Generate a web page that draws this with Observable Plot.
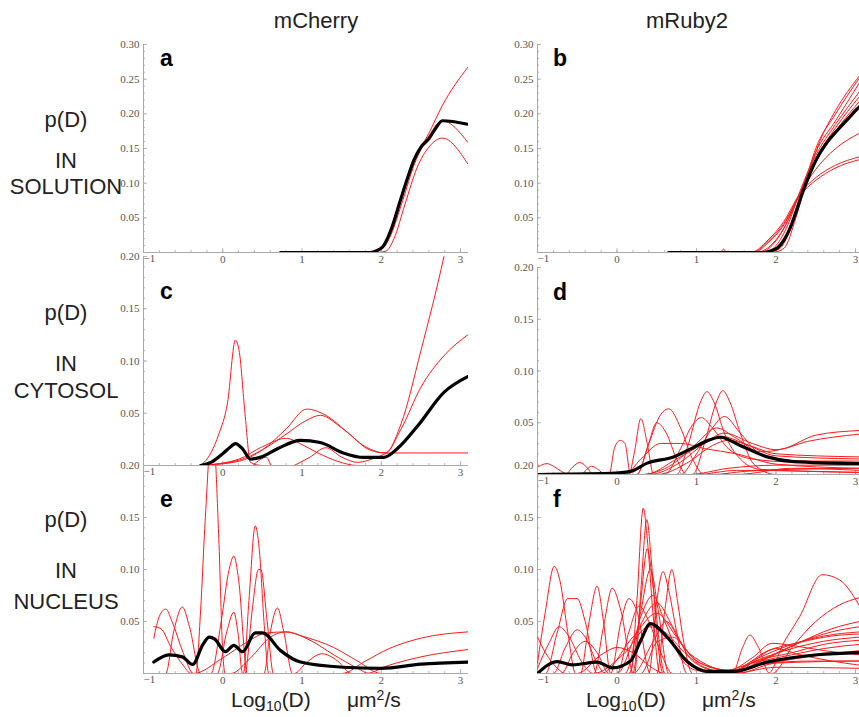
<!DOCTYPE html>
<html><head><meta charset="utf-8">
<script src="https://cdn.jsdelivr.net/npm/d3@7"></script>
<script src="https://cdn.jsdelivr.net/npm/@observablehq/plot@0.6"></script>
<style>
html,body{margin:0;padding:0;background:#fff;overflow:hidden;}
#wrap{position:relative;width:859px;height:717px;overflow:hidden;background:#fff;}
#wrap svg{position:absolute;}
</style></head><body><div id="wrap"></div>
<script>
// ---------- tick values ----------
const xMajor = [-1, 0, 1, 2, 3];
const yMajorTop = [0.05, 0.10, 0.15, 0.20, 0.25, 0.30];
const yMajorLow = [0.05, 0.10, 0.15, 0.20];
const columnTitles = ["mCherry", "mRuby2"];
const rowLabels = [["p(D)", "IN", "SOLUTION"], ["p(D)", "IN", "CYTOSOL"], ["p(D)", "IN", "NUCLEUS"]];
const panelLetters = ["a", "b", "c", "d", "e", "f"];

// ---------- data: [log10 D, p(D)] ----------
const blackA = [[0.73,0],[1.5,0],[1.86,0],[1.95,0.003],[2.03,0.01],[2.13,0.035],[2.24,0.075],[2.33,0.107],[2.41,0.133],[2.5,0.152],[2.6,0.164],[2.68,0.178],[2.77,0.19],[3.09,0.185]];
const redA = [
 [[0.73,0],[1.8,0],[1.9,0.002],[2.0,0.008],[2.1,0.028],[2.25,0.08],[2.4,0.13],[2.6,0.172],[2.77,0.212],[3.09,0.267]],
 [[0.73,0],[1.88,0],[2.0,0.004],[2.12,0.025],[2.27,0.075],[2.42,0.128],[2.6,0.168],[2.77,0.19],[3.09,0.159]],
 [[0.73,0],[1.95,0],[2.06,0.002],[2.16,0.02],[2.3,0.07],[2.45,0.122],[2.6,0.152],[2.77,0.165],[3.09,0.128]]
];

const blackB = [[0.65,0],[1.5,0],[1.84,0],[1.95,0.003],[2.02,0.007],[2.1,0.018],[2.18,0.036],[2.25,0.058],[2.33,0.085],[2.42,0.112],[2.52,0.137],[2.65,0.16],[2.77,0.176],[2.9,0.192],[3.04,0.209],[3.1,0.214]];
const redB = [
 [[0.65,0],[1.9,0],[2.05,0.006],[2.2,0.04],[2.35,0.095],[2.5,0.15],[2.75,0.2],[3.05,0.252]],
 [[0.65,0],[1.95,0],[2.1,0.006],[2.25,0.05],[2.4,0.11],[2.55,0.16],[2.75,0.205],[3.05,0.255]],
 [[0.65,0],[1.9,0],[2.05,0.008],[2.2,0.045],[2.35,0.1],[2.5,0.145],[2.75,0.19],[3.05,0.245]],
 [[0.65,0],[1.85,0],[2.0,0.01],[2.15,0.04],[2.3,0.088],[2.5,0.14],[2.75,0.185],[3.05,0.232]],
 [[0.65,0],[1.8,0],[1.95,0.01],[2.1,0.035],[2.3,0.085],[2.5,0.135],[2.75,0.18],[3.05,0.225]],
 [[0.65,0],[1.75,0],[1.95,0.012],[2.1,0.035],[2.3,0.085],[2.5,0.13],[2.75,0.175],[3.05,0.218]],
 [[0.65,0],[1.72,0],[1.9,0.014],[2.1,0.04],[2.3,0.085],[2.5,0.12],[2.75,0.15],[3.05,0.172]],
 [[0.65,0],[1.68,0],[1.9,0.018],[2.1,0.045],[2.3,0.085],[2.5,0.108],[2.75,0.126],[3.05,0.138]],
 [[0.65,0],[1.3,0],[1.34,0.005],[1.38,0],[1.7,0],[1.9,0.016],[2.1,0.042],[2.3,0.082],[2.5,0.104],[2.75,0.122],[3.05,0.134]]
];

const blackC = [[-0.28,0],[-0.15,0.003],[0.01,0.012],[0.1,0.018],[0.16,0.021],[0.25,0.016],[0.35,0.006],[0.48,0.008],[0.69,0.016],[0.98,0.024],[1.23,0.022],[1.52,0.012],[1.78,0.0077],[2.03,0.0077],[2.2,0.016],[2.46,0.038],[2.79,0.07],[3.09,0.085]];
const redC = [
 [[-0.28,0],[-0.15,0.012],[-0.05,0.03],[0.06,0.06],[0.16,0.12],[0.21,0.108],[0.28,0.05],[0.35,0.003],[0.5,0],[3.09,0]],
 [[-0.28,0],[0.2,0.004],[0.5,0.015],[0.8,0.035],[1.06,0.054],[1.3,0.048],[1.6,0.03],[1.85,0.015],[2.05,0.012],[2.25,0.04],[2.5,0.11],[2.79,0.2],[2.9,0.24]],
 [[-0.28,0],[0.2,0.005],[0.5,0.015],[0.8,0.03],[1.05,0.043],[1.23,0.048],[1.5,0.036],[1.8,0.018],[2.05,0.012],[2.25,0.035],[2.5,0.075],[2.79,0.105],[3.09,0.125]],
 [[-0.28,0],[0.2,0.006],[0.5,0.018],[0.8,0.026],[1.0,0.02],[1.2,0.012],[1.45,0.004],[1.7,0],[3.09,0]],
 [[0.9,0],[1.1,0.008],[1.3,0.017],[1.5,0.008],[1.7,0.003],[1.95,0.008],[2.1,0.012],[3.09,0.012]],
 [[0.38,0],[0.48,0.006],[0.55,0.008],[0.62,0],[0.9,0]]
];

const blackD = [[-1,0],[-0.08,0.001],[0.17,0.003],[0.38,0.011],[0.71,0.017],[0.96,0.026],[1.15,0.033],[1.3,0.036],[1.55,0.028],[1.89,0.017],[2.22,0.0125],[3.05,0.0106]];
const redD = [
 [[-1,0.007],[-0.94,0.0095],[-0.88,0.0105],[-0.8,0.008],[-0.7,0.003],[-0.6,0],[1.2,0],[1.6,0.003],[2.2,0.005],[3.05,0.006]],
 [[-1,0],[-0.65,0],[-0.56,0.007],[-0.47,0.0116],[-0.38,0.007],[-0.3,0],[0.9,0],[1.4,0.006],[2.0,0.009],[3.05,0.009]],
 [[-1,0],[-0.45,0],[-0.38,0.005],[-0.32,0.008],[-0.24,0.005],[-0.15,0],[3.05,0]],
 [[-1,0],[-0.1,0],[-0.03,0.026],[0.04,0.033],[0.1,0.03],[0.17,0],[3.05,0]],
 [[-1,0],[0.15,0],[0.22,0.022],[0.3,0.054],[0.38,0.03],[0.46,0],[1.0,0],[1.5,0.004],[3.05,0.002]],
 [[-1,0],[0.25,0],[0.4,0.03],[0.55,0.058],[0.65,0.0635],[0.8,0.045],[0.95,0.015],[1.1,0],[3.05,0]],
 [[-1,0],[0.25,0],[0.38,0.025],[0.5,0.05],[0.62,0.04],[0.75,0.015],[0.88,0],[1.5,0],[2.2,0.006],[3.05,0.004]],
 [[-1,0],[0.75,0],[0.9,0.03],[1.05,0.07],[1.13,0.08],[1.22,0.07],[1.35,0.04],[1.55,0.015],[1.8,0.005],[3.05,0.002]],
 [[-1,0],[0.95,0],[1.1,0.03],[1.25,0.07],[1.33,0.081],[1.42,0.07],[1.55,0.04],[1.72,0.01],[2.0,0],[3.05,0]],
 [[-1,0],[0.6,0],[0.8,0.025],[0.95,0.048],[1.06,0.055],[1.2,0.045],[1.4,0.025],[1.7,0.015],[2.2,0.012],[3.05,0.011]],
 [[-1,0],[0.8,0],[1.0,0.02],[1.2,0.045],[1.35,0.056],[1.55,0.04],[1.8,0.02],[2.2,0.013],[3.05,0.013]],
 [[-1,0],[0.3,0],[0.7,0.01],[1.0,0.03],[1.25,0.045],[1.5,0.035],[1.8,0.022],[2.1,0.025],[2.5,0.038],[3.05,0.0425]],
 [[-1,0],[0.4,0],[0.8,0.012],[1.1,0.03],[1.35,0.04],[1.7,0.03],[2.0,0.024],[2.4,0.032],[3.05,0.039]],
 [[-1,0],[0.5,0],[0.9,0.012],[1.2,0.028],[1.4,0.033],[1.7,0.027],[2.0,0.02],[3.05,0.017]],
 [[-1,0],[0.35,0],[0.75,0.015],[1.1,0.03],[1.3,0.037],[1.6,0.03],[2.0,0.018],[3.05,0.015]],
 [[-1,0],[0.1,0],[0.3,0.015],[0.55,0.03],[0.8,0.03],[1.1,0.025],[1.5,0.02],[2.0,0.01],[3.05,0.006]]
];

const blackE = [[-0.87,0.011],[-0.68,0.018],[-0.51,0.016],[-0.38,0.0087],[-0.25,0.028],[-0.17,0.035],[-0.1,0.033],[0.03,0.021],[0.14,0.027],[0.25,0.021],[0.41,0.039],[0.5,0.039],[0.73,0.022],[0.98,0.011],[1.52,0.006],[1.99,0.005],[2.5,0.009],[3.09,0.011]];
const redE = [
 [[-0.87,0.034],[-0.8,0.055],[-0.72,0.062],[-0.64,0.05],[-0.5,0.02],[-0.37,0],[3.09,0]],
 [[-0.87,0.045],[-0.78,0.043],[-0.65,0.025],[-0.5,0.008],[-0.4,0],[3.09,0]],
 [[-0.87,0],[-0.72,0],[-0.62,0.04],[-0.51,0.064],[-0.42,0.045],[-0.28,0],[3.09,0]],
 [[-0.87,0],[-0.34,0],[-0.28,0.06],[-0.22,0.15],[-0.13,0.24],[-0.05,0.13],[0.0,0.02],[0.03,0],[3.09,0]],
 [[-0.87,0],[-0.15,0],[-0.02,0.05],[0.08,0.1],[0.14,0.113],[0.2,0.09],[0.31,0],[3.09,0]],
 [[-0.87,0],[-0.07,0],[0.05,0.04],[0.14,0.059],[0.19,0.04],[0.25,0],[3.09,0]],
 [[-0.87,0],[0.26,0],[0.33,0.07],[0.41,0.142],[0.46,0.12],[0.52,0.05],[0.58,0],[3.09,0]],
 [[-0.87,0],[0.28,0],[0.37,0.06],[0.45,0.1],[0.48,0.1],[0.56,0.05],[0.64,0],[3.09,0]],
 [[-0.87,0],[0.52,0],[0.6,0.04],[0.69,0.063],[0.77,0.04],[0.88,0],[3.09,0]],
 [[-0.87,0],[-0.37,0],[0,0.015],[0.3,0.03],[0.55,0.039],[0.8,0.04],[1.0,0.036],[1.4,0.025],[1.7,0.012],[2.0,0],[3.09,0]],
 [[-0.87,0],[0.1,0],[0.35,0.015],[0.6,0.035],[0.8,0.04],[1.1,0.032],[1.4,0.018],[1.7,0.005],[1.85,0],[3.09,0]],
 [[-0.87,0],[0.9,0],[1.05,0.01],[1.25,0.019],[1.45,0.012],[1.62,0],[3.09,0]],
 [[-0.87,0],[1.5,0],[1.8,0.012],[2.1,0.024],[2.5,0.034],[3.09,0.04]],
 [[-0.87,0],[1.8,0],[2.1,0.008],[2.5,0.016],[3.09,0.023]]
];

const blackF = [[-1,0],[-0.75,0.0115],[-0.56,0.0083],[-0.25,0.011],[-0.06,0.0054],[0.17,0.012],[0.3,0.032],[0.42,0.048],[0.63,0.035],[0.89,0.011],[1.14,0.002],[1.47,0.002],[1.89,0.011],[2.52,0.018],[3.05,0.020]];
const redF = [
 [[-1,0.01],[-0.9,0.06],[-0.79,0.103],[-0.72,0.09],[-0.62,0.04],[-0.52,0],[1.5,0],[2.0,0.01],[3.05,0.012]],
 [[-1,0],[-0.9,0],[-0.75,0.04],[-0.62,0.072],[-0.5,0.072],[-0.4,0.05],[-0.25,0],[1.45,0],[2.0,0.006],[3.05,0.005]],
 [[-1,0],[-0.46,0],[-0.35,0.05],[-0.25,0.084],[-0.17,0.05],[-0.08,0],[3.05,0]],
 [[-1,0],[-0.29,0],[-0.17,0.045],[-0.06,0.082],[0.05,0.06],[0.21,0],[1.4,0],[1.7,0.012],[2.2,0.028],[2.6,0.036],[3.05,0.04]],
 [[-1,0],[-0.08,0],[0.05,0.05],[0.15,0.072],[0.25,0.06],[0.42,0],[3.05,0]],
 [[-1,0],[0.17,0],[0.25,0.07],[0.33,0.159],[0.38,0.13],[0.45,0.06],[0.54,0],[3.05,0]],
 [[-1,0],[0.22,0],[0.3,0.08],[0.375,0.148],[0.43,0.11],[0.5,0.04],[0.58,0],[3.05,0]],
 [[-1,0],[0.2,0],[0.3,0.07],[0.38,0.12],[0.46,0.08],[0.6,0],[3.05,0]],
 [[-1,0],[0.15,0],[0.3,0.06],[0.42,0.1],[0.52,0.06],[0.65,0],[1.4,0],[1.9,0.015],[2.3,0.03],[2.7,0.043],[3.05,0.05]],
 [[-1,0],[0.4,0],[0.5,0.07],[0.58,0.098],[0.65,0.08],[0.75,0.04],[0.88,0],[3.05,0]],
 [[-1,0],[0.5,0],[0.6,0.06],[0.69,0.1],[0.76,0.07],[0.84,0.03],[0.95,0],[1.4,0],[1.85,0.014],[2.3,0.03],[2.7,0.04],[3.05,0.045]],
 [[-1,0],[0.1,0],[0.3,0.055],[0.45,0.075],[0.6,0.05],[0.8,0.015],[1.0,0.003],[1.35,0],[1.8,0.014],[2.2,0.024],[2.6,0.031],[3.05,0.035]],
 [[-1,0],[0,0],[0.25,0.04],[0.5,0.068],[0.7,0.045],[0.95,0.012],[1.3,0.002],[1.7,0.01],[2.2,0.018],[2.6,0.024],[3.05,0.028]],
 [[-1,0],[-0.2,0],[0.2,0.035],[0.5,0.058],[0.75,0.035],[1.0,0.012],[1.4,0.003],[1.7,0.015],[1.95,0.029],[2.2,0.027],[2.6,0.022],[3.05,0.018]],
 [[-1,0.005],[-0.85,0.03],[-0.73,0.045],[-0.6,0.035],[-0.45,0.012],[-0.3,0],[3.05,0]],
 [[-1,0],[-0.8,0],[-0.65,0.025],[-0.5,0.042],[-0.4,0.035],[-0.25,0.01],[-0.15,0],[1.5,0],[1.75,0.014],[2.0,0.024],[2.3,0.018],[2.7,0.012],[3.05,0.008]],
 [[-1,0],[-0.7,0],[-0.55,0.02],[-0.4,0.031],[-0.25,0.02],[-0.1,0],[3.05,0]],
 [[-1,0],[-0.5,0],[-0.2,0.018],[0,0.025],[0.2,0.02],[0.45,0.005],[0.6,0],[1.4,0],[1.9,0.01],[2.5,0.012],[3.05,0.012]],
 [[-1,0],[0,0],[0.15,0.04],[0.28,0.065],[0.4,0.05],[0.55,0.02],[0.7,0],[3.05,0]],
 [[-1,0.035],[-0.9,0.02],[-0.75,0.005],[-0.65,0],[3.05,0]],
 [[-1,0],[1.45,0],[1.58,0.025],[1.67,0.037],[1.78,0.025],[1.92,0],[3.05,0]],
 [[-1,0],[1.9,0],[2.1,0.03],[2.3,0.055],[2.58,0.095],[2.8,0.09],[3.05,0.065]],
 [[-1,0],[1.95,0],[2.2,0.025],[2.5,0.05],[2.8,0.066],[3.05,0.073]],
 [[-1,0],[0.3,0],[0.5,0.03],[0.7,0.035],[0.9,0.02],[1.2,0.006],[1.45,0.002],[1.75,0.012],[2.2,0.02],[2.6,0.028],[3.05,0.032]],
 [[-1,0],[-0.3,0],[0.1,0.02],[0.4,0.045],[0.6,0.04],[0.85,0.02],[1.1,0.006],[1.4,0.001],[1.8,0.008],[2.4,0.016],[3.05,0.022]],
 [[-1,0],[0.2,0],[0.45,0.03],[0.62,0.05],[0.8,0.03],[1.05,0.01],[1.45,0.003],[1.9,0.022],[2.3,0.03],[2.7,0.036],[3.05,0.038]]
];

// ---------- layout ----------
const wrap = document.getElementById("wrap");
const AX = "#a8a8a8", LBL = "#555";
const cols = [{left: 143, right: 468, xDomain: [-1, 3.1]}, {left: 537, right: 859, xDomain: [-1, 3.05]}];
const panels = [
  {col: 0, top: 44,  bottom: 252, yMax: 0.30, yTicks: yMajorTop, red: redA, black: blackA},
  {col: 1, top: 44,  bottom: 252, yMax: 0.30, yTicks: yMajorTop, red: redB, black: blackB},
  {col: 0, top: 256, bottom: 465, yMax: 0.20, yTicks: yMajorLow, red: redC, black: blackC},
  {col: 1, top: 267, bottom: 474, yMax: 0.20, yTicks: yMajorLow, red: redD, black: blackD},
  {col: 0, top: 465, bottom: 673, yMax: 0.20, yTicks: yMajorLow, red: redE, black: blackE},
  {col: 1, top: 465, bottom: 673, yMax: 0.20, yTicks: yMajorLow, red: redF, black: blackF}
];

panels.forEach(p => {
  const c = cols[p.col];
  const mL = 40, mT = 10, mB = 18, mR = 0;
  const iw = c.right - c.left, ih = p.bottom - p.top;
  const rows = p.red.flatMap((pts, i) => pts.map(([x, y]) => ({x, y, id: i})));
  const xMinor = d3.range(-1, c.xDomain[1] + 1e-9, 0.2);
  const yMinor = d3.range(0, p.yMax + 1e-9, 0.01);
  const tickFont = {fontFamily: "Liberation Serif", fontSize: 11, fill: LBL};
  const svg = Plot.plot({
    width: mL + iw + mR, height: mT + ih + mB,
    marginLeft: mL, marginRight: mR, marginTop: mT, marginBottom: mB,
    x: {domain: c.xDomain, axis: null},
    y: {domain: [0, p.yMax], axis: null},
    style: {background: "transparent", overflow: "visible"},
    marks: [
      Plot.ruleX(xMinor, {x: d => d, stroke: AX, strokeWidth: 0.8, insetTop: ih - 2}),
      Plot.ruleX(xMajor, {x: d => d, stroke: AX, strokeWidth: 0.8, insetTop: ih - 4}),
      Plot.ruleY(yMinor, {y: d => d, stroke: AX, strokeWidth: 0.8, insetRight: iw - 2}),
      Plot.ruleY(p.yTicks, {y: d => d, stroke: AX, strokeWidth: 0.8, insetRight: iw - 4}),
      Plot.ruleY([0], {stroke: AX, strokeWidth: 1}),
      Plot.ruleX([-1], {stroke: AX, strokeWidth: 1}),
      Plot.text(xMajor.filter(d => d >= 0), {x: d => d, frameAnchor: "bottom", dy: 7, lineAnchor: "middle",
        text: d => String(d), ...tickFont}),
      Plot.text(xMajor.filter(d => d < 0), {x: d => d, frameAnchor: "bottom", dy: 6, dx: 0, lineAnchor: "middle",
        textAnchor: "start", text: d => "\u2212" + Math.abs(d), ...tickFont}),
      Plot.text(p.yTicks, {y: d => d, frameAnchor: "left", dx: -4, textAnchor: "end",
        text: d => d.toFixed(2), ...tickFont}),
      Plot.line(rows, {x: "x", y: "y", z: "id", stroke: "#ff1a1a", strokeWidth: 1, curve: "monotone-x", clip: true}),
      Plot.line(p.black, {x: d => d[0], y: d => d[1], stroke: "#000", strokeWidth: 3.2, curve: "monotone-x", clip: true})
    ]
  });
  svg.style.left = (c.left - mL) + "px";
  svg.style.top = (p.top - mT) + "px";
  wrap.appendChild(svg);
});

// ---------- text overlay ----------
const ov = d3.select(wrap).append("svg").attr("width", 859).attr("height", 717)
  .style("left", "0px").style("top", "0px").style("pointer-events", "none");
const sans = "'Liberation Sans', Arial, Helvetica, sans-serif";
[[316, columnTitles[0]], [687, columnTitles[1]]].forEach(([x, t]) =>
  ov.append("text").attr("x", x).attr("y", 28).attr("text-anchor", "middle")
    .attr("font-family", sans).attr("font-size", 22).attr("fill", "#222").text(t));
const rowBase = [[127, 168, 194], [320, 371, 398], [527, 578, 609]];
rowLabels.forEach((lines, r) => lines.forEach((t, i) =>
  ov.append("text").attr("x", 66).attr("y", rowBase[r][i]).attr("text-anchor", "middle")
    .attr("font-family", sans).attr("font-size", 22).attr("fill", "#222").text(t)));
const letterPos = [[160, 66], [553, 66], [160, 299], [553, 300], [160, 507], [553, 507]];
panelLetters.forEach((t, i) =>
  ov.append("text").attr("x", letterPos[i][0]).attr("y", letterPos[i][1])
    .attr("font-family", sans).attr("font-weight", "bold").attr("font-size", 23).attr("fill", "#000").text(t));
[[231, 347], [586, 702]].forEach(([x, xu]) => {
  const t = ov.append("text").attr("x", x).attr("y", 707).attr("font-family", sans).attr("font-size", 21).attr("fill", "#222");
  t.append("tspan").text("Log");
  t.append("tspan").attr("font-size", 14).attr("dy", 4).text("10");
  t.append("tspan").attr("dy", -4).text("(D)");
  const u = ov.append("text").attr("x", xu).attr("y", 707).attr("font-family", sans).attr("font-size", 21).attr("fill", "#222");
  u.append("tspan").text("\u03bcm");
  u.append("tspan").attr("font-size", 14).attr("dy", -7).text("2");
  u.append("tspan").attr("dy", 7).text("/s");
});
</script></body></html>
